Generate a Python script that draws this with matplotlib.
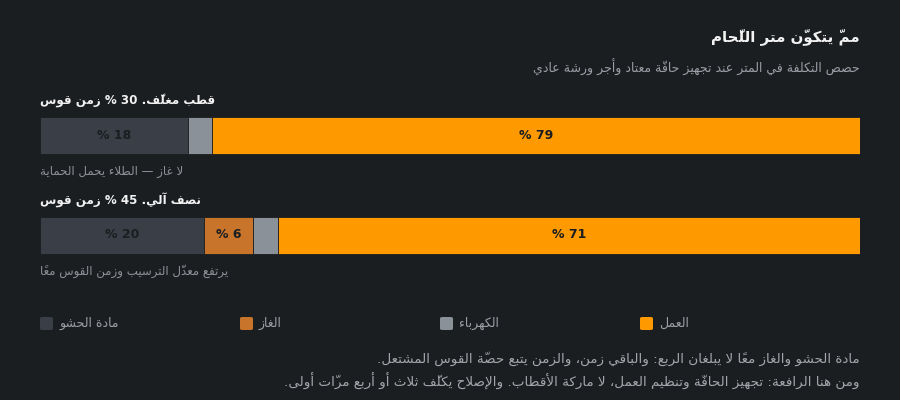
import matplotlib
matplotlib.use("Agg")
import matplotlib.pyplot as plt
from matplotlib.patches import FancyBboxPatch

# matplotlib does no Arabic shaping, so letters are mapped to their
# presentation forms and put into visual order by hand
_LETTERS = "ءآأؤإئابةتثجحخدذرزسشصضطظعغفقكلمنهوىي"
_RIGHT_ONLY = set("آأؤإادذرزوىة")
_TABLE = {}
cp = 0xFE80
for ch in _LETTERS:
    n = 1 if ch == "ء" else (2 if ch in _RIGHT_ONLY else 4)
    _TABLE[ch] = (n, cp)
    cp += n
for alef, lig in zip("آأإا", (0xFEF5, 0xFEF7, 0xFEF9, 0xFEFB)):
    _TABLE["ل" + alef] = (2, lig)


def ar(text):
    cl = []
    for ch in text:
        if (0x064B <= ord(ch) <= 0x0652 or ch == "\u0670") and cl:
            cl[-1][1] += ch
        elif cl and cl[-1][0] == "ل" and ch in "آأإا":
            cl[-1][0] = "ل" + ch
        else:
            cl.append([ch, ""])
    out = []
    for i, (b, m) in enumerate(cl):
        if b in _TABLE:
            n, base = _TABLE[b]
            prev = cl[i - 1][0] if i > 0 else ""
            nxt = cl[i + 1][0] if i + 1 < len(cl) else ""
            jp = n > 1 and _TABLE.get(prev, (0,))[0] == 4
            jn = n == 4 and _TABLE.get(nxt, (0,))[0] > 1
            idx = 3 if (jp and jn) else 1 if jp else 2 if jn else 0
            b = chr(base + idx)
        # zero-width marks draw to the right of the pen, so put them first
        out.append(m + b)
    toks = []
    for s in out:
        if toks and s.isdigit() and toks[-1][-1].isdigit():
            toks[-1] += s
        else:
            toks.append(s)
    return "".join(reversed(toks))


# data
title = "ممّ يتكوّن متر اللّحام"
subtitle = "حصص التكلفة في المتر عند تجهيز حافّة معتاد وأجر ورشة عادي"
row_titles = ["قطب مغلّف. 30 % زمن قوس", "نصف آلي. 45 % زمن قوس"]
row_notes = ["لا غاز — الطلاء يحمل الحماية", "يرتفع معدّل الترسيب وزمن القوس معًا"]
categories = ["مادة الحشو", "الغاز", "الكهرباء", "العمل"]
filler = [18, 20]
gas = [0, 6]
electricity = [3, 3]
labor = [79, 71]
footnote = [
    "مادة الحشو والغاز معًا لا يبلغان الربع: والباقي زمن، والزمن يتبع حصّة القوس المشتعل.",
    "ومن هنا الرافعة: تجهيز الحافّة وتنظيم العمل، لا ماركة الأقطاب. والإصلاح يكلّف ثلاث أو أربع مرّات أولى.",
]

BG = "#1b1e21"
colors = ["#3a3e46", "#c8752b", "#8b9199", "#ff9900"]

plt.rcParams["font.family"] = ["DejaVu Sans"]
fig = plt.figure(figsize=(9, 4), dpi=100, facecolor=BG)
W, H = 900.0, 400.0


def ftext(x, y, s, **kw):
    fig.text(x / W, 1 - y / H, s, va="center", **kw)


ax = fig.add_axes([40 / W, 0, 820 / W, 1])
ax.set_xlim(0, 100)
ax.set_ylim(H, 0)
ax.axis("off")

row_y = [135.5, 235]
series = [filler, gas, electricity, labor]
left = [0, 0]
for vals, col in zip(series, colors):
    ax.barh(row_y, vals, left=left, height=37, color=col,
            edgecolor=BG, linewidth=0.6)
    for y, l, v in zip(row_y, left, vals):
        if v >= 5:
            ax.text(l + v / 2, y, ar(f"{v} %"), ha="center", va="center",
                    fontsize=9, fontweight="bold", color="#1b1e21")
    left = [l + v for l, v in zip(left, vals)]

ftext(860, 37, ar(title), ha="right", fontsize=10.8, fontweight="bold",
      color="#f2f2f2")
ftext(860, 67, ar(subtitle), ha="right", fontsize=9, color="#9a9ea5")

for y, t, n in zip(row_y, row_titles, row_notes):
    ftext(40, y - 35, ar(t), ha="left", fontsize=8.6, fontweight="bold",
          color="#f2f2f2")
    ftext(40, y + 36.5, ar(n), ha="left", fontsize=8.5, color="#8e9298")

# legend
for i, (c, col) in enumerate(zip(categories, colors)):
    x0 = 40 + 200 * i
    fig.patches.append(FancyBboxPatch(
        (x0 / W, 1 - 330 / H), 13 / W, 13 / H,
        boxstyle="round,pad=0,rounding_size=0.003",
        transform=fig.transFigure, facecolor=col, edgecolor="none"))
    ftext(x0 + 19, 323, ar(c), ha="left", fontsize=9, color="#9a9ea5")

for i, line in enumerate(footnote):
    ftext(860, 359 + 22 * i, ar(line), ha="right", fontsize=9.7,
          color="#a3a7ac")

fig.savefig("out.png", dpi=100, facecolor=BG)
